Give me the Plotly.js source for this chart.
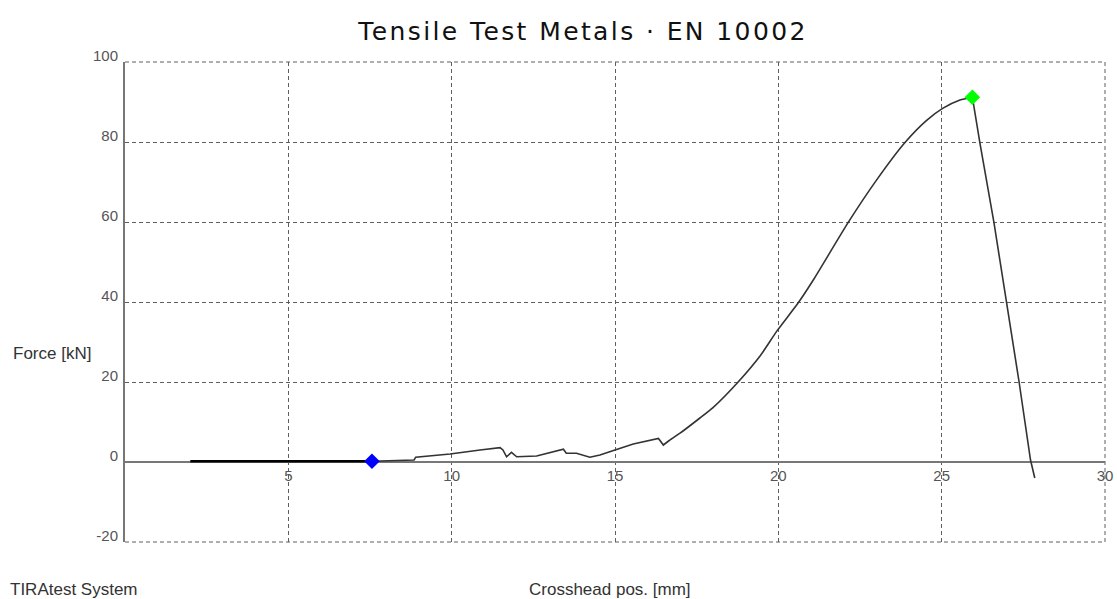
<!DOCTYPE html>
<html>
<head>
<meta charset="utf-8">
<script src="https://cdn.plot.ly/plotly-3.0.1.min.js"></script>
<style>html,body{margin:0;padding:0;background:#fff;}</style>
</head>
<body>
<div id="chart" style="width:1117px;height:599px;"></div>
<script>
// Pre-load segment (crosshead travel before force pickup)
var preX = [2.0, 7.56];
var preY = [0.2, 0.2];

// Low-force, jagged part of the curve
var lowX = [7.56, 7.8, 8.85, 8.9, 9.95, 10.87, 11.48, 11.57, 11.68, 11.83, 11.99, 12.6, 13.11, 13.42, 13.51, 13.82, 14.23, 14.54, 15.0, 15.56, 16.33, 16.48, 16.68];
var lowY = [0.2, 0.25, 0.5, 1.2, 2.0, 3.0, 3.6, 3.0, 1.3, 2.4, 1.3, 1.5, 2.6, 3.2, 2.2, 2.2, 1.2, 1.75, 3.0, 4.5, 5.9, 4.25, 5.5];

// Rising part up to maximum force
var riseX = [16.68, 16.99, 17.6, 18.0, 18.77, 19.44, 19.97, 20.61, 21.07, 22.14, 23.0, 23.87, 24.54, 25.03, 25.56, 25.94];
var riseY = [5.5, 7.2, 11.0, 13.6, 20.0, 26.5, 32.9, 39.8, 45.5, 59.9, 70.4, 79.8, 85.4, 88.4, 90.5, 91.2];

// Drop after fracture
var dropX = [25.94, 26.17, 26.6, 26.99, 27.37, 27.72, 27.85];
var dropY = [91.2, 79.8, 59.9, 40.0, 20.0, 0.5, -4.0];

// Marked points
var startX = [7.56], startY = [0.2];
var maxX = [25.94], maxY = [91.2];

// Tick values
var xTicks = [5, 10, 15, 20, 25, 30];
var yTicks = [-20, 0, 20, 40, 60, 80, 100];

var tickFont = {family: 'Liberation Sans, Arial, sans-serif', size: 15, color: '#555'};
var labelFont = {family: 'Liberation Sans, Arial, sans-serif', size: 17, color: '#333'};
var curveLine = {color: '#333', width: 1.6};
var gridDash = '4px,3px';
var gridColor = '#5f5f5f';

var traces = [
  {x: preX, y: preY, type: 'scatter', mode: 'lines', line: {color: '#000', width: 2.5}},
  {x: lowX, y: lowY, type: 'scatter', mode: 'lines', line: curveLine},
  {x: riseX, y: riseY, type: 'scatter', mode: 'lines', line: {color: curveLine.color, width: curveLine.width, shape: 'spline', smoothing: 0.6}},
  {x: dropX, y: dropY, type: 'scatter', mode: 'lines', line: curveLine},
  {x: startX, y: startY, type: 'scatter', mode: 'markers', marker: {symbol: 'diamond', size: 12, color: '#0000ff'}},
  {x: maxX, y: maxY, type: 'scatter', mode: 'markers', marker: {symbol: 'diamond', size: 12, color: '#00ff00'}}
];

var frameLine = {color: gridColor, width: 1, dash: gridDash};

var layout = {
  width: 1117, height: 599,
  margin: {l: 125, r: 12, t: 62, b: 57},
  paper_bgcolor: '#fff', plot_bgcolor: '#fff',
  showlegend: false,
  title: {
    text: 'Tensile Test Metals · EN 10002',
    font: {family: 'DejaVu Sans, Verdana, sans-serif', size: 25, color: '#111'},
    x: 0.522, xref: 'container', xanchor: 'center',
    y: 0.947, yref: 'container', yanchor: 'middle'
  },
  xaxis: {
    range: [0, 30], tickvals: xTicks, ticktext: xTicks.map(String),
    showgrid: true, gridcolor: gridColor, gridwidth: 1, griddash: gridDash,
    zeroline: false, showline: false, ticks: '',
    anchor: 'free', position: 1/6, ticklabelstandoff: 3,
    tickfont: tickFont, fixedrange: true
  },
  yaxis: {
    range: [-20, 100], tickvals: yTicks, ticktext: yTicks.map(String),
    showgrid: true, gridcolor: gridColor, gridwidth: 1, griddash: gridDash,
    zeroline: true, zerolinecolor: '#777', zerolinewidth: 2,
    showline: true, linecolor: '#777', linewidth: 2, ticks: '',
    ticklabelshift: -6, ticklabelstandoff: 2,
    tickfont: tickFont, fixedrange: true
  },
  shapes: [
    {type: 'line', xref: 'paper', yref: 'paper', x0: 0, x1: 1, y0: 1, y1: 1, line: frameLine, layer: 'below'},
    {type: 'line', xref: 'paper', yref: 'paper', x0: 1, x1: 1, y0: 0, y1: 1, line: frameLine, layer: 'below'},
    {type: 'line', xref: 'paper', yref: 'paper', x0: 0, x1: 1, y0: 0, y1: 0, line: frameLine, layer: 'below'}
  ],
  annotations: [
    {text: 'Force [kN]', xref: 'paper', yref: 'paper', x: -0.1163, y: 0.392, xanchor: 'left', yanchor: 'middle', showarrow: false, font: labelFont},
    {text: 'Crosshead pos. [mm]', xref: 'paper', yref: 'paper', x: 0.41, y: -0.098, xanchor: 'left', yanchor: 'middle', showarrow: false, font: labelFont},
    {text: 'TIRAtest System', xref: 'paper', yref: 'paper', x: -0.1194, y: -0.098, xanchor: 'left', yanchor: 'middle', showarrow: false, font: labelFont}
  ]
};

Plotly.newPlot('chart', traces, layout, {displayModeBar: false, staticPlot: true}).then(function () {
  var t = document.querySelector('.gtitle');
  if (t) { t.style.letterSpacing = '2.4px'; }
});
</script>
</body>
</html>
